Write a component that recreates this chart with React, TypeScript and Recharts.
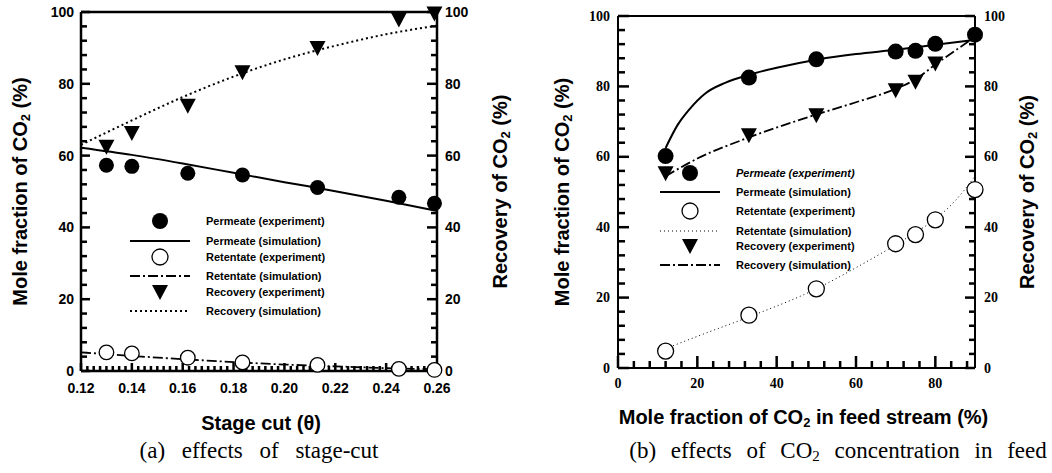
import React from "react";
import {
  ComposedChart,
  Legend,
  Line,
  ReferenceLine,
  Scatter,
  XAxis,
  YAxis,
} from "recharts";

const SANS = "'Liberation Sans', Arial, sans-serif";
const SERIF = "'Liberation Serif', 'Times New Roman', serif";

// (a) effects of stage-cut
const stageCutExp = [0.13, 0.14, 0.162, 0.1835, 0.213, 0.245, 0.259];
const permeateExpA = [57.3, 57.0, 55.1, 54.6, 51.1, 48.4, 46.7];
const retentateExpA = [5.2, 4.9, 3.7, 2.4, 1.7, 0.6, 0.3];
const recoveryExpA = [62.5, 66.3, 73.9, 83.2, 90.0, 97.9, 99.6];

const stageCutSim = [0.12, 0.14, 0.16, 0.18, 0.2, 0.22, 0.24, 0.26];
const permeateSimA = [62.2, 60.2, 57.8, 55.2, 52.6, 50.1, 47.4, 44.6];
const retentateSimA = [5.2, 4.2, 3.3, 2.5, 1.8, 1.3, 0.8, 0.5];
const recoverySimA = [63.0, 69.8, 76.3, 82.0, 86.8, 90.6, 93.8, 96.2];

// (b) effects of CO2 concentration in feed
const feedExp = [12, 33, 50, 70, 75, 80, 90];
const permeateExpB = [60.2, 82.5, 87.7, 89.9, 90.1, 92.1, 94.7];
const retentateExpB = [4.8, 15.0, 22.5, 35.3, 37.9, 42.1, 50.7];
const feedRecExp = [12, 33, 50, 70, 75, 80];
const recoveryExpB = [55.3, 66.1, 71.8, 78.9, 81.3, 86.5];

const feedPermSim = [12, 15, 18, 22, 27, 33, 40, 50, 60, 70, 80, 90];
const permeateSimB = [62.5, 69, 73.5, 78, 81, 83.3, 85.3, 87.6, 89.2, 90.4, 91.8, 93.2];
const feedRecSim = [12, 20, 33, 50, 60, 70, 75, 80, 90];
const recoverySimB = [54.5, 59.5, 65.5, 72, 75.5, 79.3, 82, 86.2, 94];
const feedRetSim = [12, 20, 33, 50, 60, 70, 75, 80, 85, 90];
const retentateSimB = [5.5, 9, 14.5, 22.5, 28.5, 35, 38.5, 42.3, 47.5, 54.5];

// axis ticks
const stageCutTicks = [0.12, 0.14, 0.16, 0.18, 0.2, 0.22, 0.24, 0.26];
const feedTicks = [0, 20, 40, 60, 80];
const pctTicks = [0, 20, 40, 60, 80, 100];

type Row = { label: string; mark: string; italic?: boolean };
const legendA: Row[] = [
  { label: "Permeate (experiment)", mark: "dot" },
  { label: "Permeate (simulation)", mark: "solid" },
  { label: "Retentate (experiment)", mark: "ring" },
  { label: "Retentate (simulation)", mark: "dashdot" },
  { label: "Recovery (experiment)", mark: "tri" },
  { label: "Recovery (simulation)", mark: "dotted" },
];
const legendB: Row[] = [
  { label: "Permeate (experiment)", mark: "dot", italic: true },
  { label: "Permeate (simulation)", mark: "solid" },
  { label: "Retentate (experiment)", mark: "ring" },
  { label: "Retentate (simulation)", mark: "fine" },
  { label: "Recovery (experiment)", mark: "tri" },
  { label: "Recovery (simulation)", mark: "dashdot" },
];

const pts = (xs: number[], ys: number[]) => xs.map((x, i) => ({ x, y: ys[i] }));

// majors plus evenly spaced minor ticks in between (and up to `end`)
function withMinor(majors: number[], parts: number, end?: number) {
  const step = (majors[1] - majors[0]) / parts;
  const out: number[] = [];
  const last = end ?? majors[majors.length - 1];
  for (let v = majors[0]; v <= last + step / 10; v += step) out.push(+v.toFixed(6));
  return out;
}

const isMajorOf = (majors: number[]) => (v: number) =>
  majors.some((m) => Math.abs(m - v) < 1e-6);

// tick labels only; inward tick marks come from the stub scatters
const makeTick = (side: "left" | "right" | "bottom", fmt: (v: number) => string,
  font: string, gap: number) => (p: any) => {
  const { x, y, payload } = p;
  const txt = { fontFamily: font, fontSize: 14, fontWeight: 700, fill: "#000" };
  if (side === "left")
    return <text x={x - gap} y={y} textAnchor="end" dominantBaseline="central" {...txt}>{fmt(payload.value)}</text>;
  if (side === "right")
    return <text x={x + gap} y={y} textAnchor="start" dominantBaseline="central" {...txt}>{fmt(payload.value)}</text>;
  return <text x={x} y={y + gap} textAnchor="middle" dominantBaseline="central" {...txt}>{fmt(payload.value)}</text>;
};

const stubShape = (dir: "right" | "left" | "up", majors: number[], key: "x" | "y", maj: number, min: number) => {
  const isMajor = isMajorOf(majors);
  return (p: any) => {
    const v = p.payload ? p.payload[key] : key === "x" ? p.x : p.y;
    const len = isMajor(v) ? maj : min;
    const cx = Number(p.cx);
    const cy = Number(p.cy);
    if (dir === "right") return <rect x={cx} y={cy - 1.25} width={len} height={2.5} fill="#000" />;
    if (dir === "left") return <rect x={cx - len} y={cy - 1.25} width={len} height={2.5} fill="#000" />;
    return <rect x={cx - 1.25} y={cy - len} width={2.5} height={len} fill="#000" />;
  };
};

// rotated title with CO2 subscript
const yTitle = (before: string, after: string, dx: number) => (p: any) => {
  const vb = p.viewBox;
  const cx = vb.x + dx;
  const cy = vb.y + vb.height / 2;
  return (
    <text x={cx} y={cy} transform={`rotate(-90 ${cx} ${cy})`} textAnchor="middle"
      dominantBaseline="central" fontFamily={SANS} fontWeight={700} fontSize={20} fill="#000">
      {before}
      <tspan dy={5} fontSize={13}>2</tspan>
      <tspan dy={-5}>{after}</tspan>
    </text>
  );
};

const xTitle = (parts: string[], dy: number, dx = 0) => (p: any) => {
  const vb = p.viewBox;
  const cx = vb.x + vb.width / 2 + dx;
  const cy = vb.y + dy;
  return (
    <text x={cx} y={cy} textAnchor="middle" dominantBaseline="central"
      fontFamily={SANS} fontWeight={700} fontSize={20} fill="#000">
      {parts[0]}
      {parts.length > 1 && (
        <>
          <tspan dy={5} fontSize={13}>2</tspan>
          <tspan dy={-5}>{parts[1]}</tspan>
        </>
      )}
    </text>
  );
};

const Dot = (r: number) => (p: any) => <circle cx={p.cx} cy={p.cy} r={r} fill="#000" />;
const Ring = (r: number) => (p: any) => (
  <circle cx={p.cx} cy={p.cy} r={r} fill="#fff" stroke="#000" strokeWidth={1.3} />
);
const Tri = (p: any) => (
  <polygon points={`${p.cx - 8},${p.cy - 7} ${p.cx + 8},${p.cy - 7} ${p.cx},${p.cy + 8}`} fill="#000" />
);

const LINE_STYLE: Record<string, { dash?: string; w: number }> = {
  solid: { w: 2 },
  dashdot: { dash: "10 3 2 3", w: 1.8 },
  dotted: { dash: "2 3", w: 2 },
  fine: { dash: "1 3", w: 1 },
};

function LegendBox({ rows, rowY }: { rows: Row[]; rowY: number[] }) {
  return (
    <svg width={240} height={125}>
      {rows.map((r, i) => {
        const y = rowY[i];
        let mark: React.ReactNode = null;
        if (r.mark === "dot") mark = <circle cx={40} cy={y} r={8} fill="#000" />;
        else if (r.mark === "ring")
          mark = <circle cx={40} cy={y} r={8} fill="#fff" stroke="#000" strokeWidth={1.3} />;
        else if (r.mark === "tri")
          mark = <polygon points={`32,${y - 7} 48,${y - 7} 40,${y + 8}`} fill="#000" />;
        else {
          const s = LINE_STYLE[r.mark];
          mark = <line x1={10} y1={y} x2={70} y2={y} stroke="#000" strokeWidth={s.w} strokeDasharray={s.dash} />;
        }
        return (
          <g key={r.label}>
            {mark}
            <text x={86} y={y} dominantBaseline="central" fontFamily={SANS} fontWeight={700}
              fontSize={11} fontStyle={r.italic ? "italic" : "normal"} fill="#000">
              {r.label}
            </text>
          </g>
        );
      })}
    </svg>
  );
}

function StageCutChart() {
  const yVals = withMinor(pctTicks, 5);
  const xVals = withMinor(stageCutTicks, 8);
  return (
    <ComposedChart width={520} height={445} margin={{ top: 12, right: 0, bottom: 0, left: 0 }}>
      <XAxis type="number" dataKey="x" domain={[0.12, 0.26]} ticks={stageCutTicks} interval={0}
        tickSize={0} tickMargin={0} tickLine={false} tick={makeTick("bottom", (v) => v.toFixed(2), SANS, 17)}
        axisLine={{ stroke: "#000", strokeWidth: 2.5 }} height={74}
        label={{ content: xTitle(["Stage cut (θ)"], 52, 2) }} />
      <YAxis yAxisId="left" type="number" domain={[0, 100]} ticks={pctTicks} interval={0}
        tickSize={0} tickMargin={0} tickLine={false} tick={makeTick("left", String, SANS, 7)}
        axisLine={{ stroke: "#000", strokeWidth: 2.5 }} width={81}
        label={{ content: yTitle("Mole fraction of CO", " (%)", 20) }} />
      <YAxis yAxisId="right" orientation="right" type="number" domain={[0, 100]} ticks={pctTicks} interval={0}
        tickSize={0} tickMargin={0} tickLine={false} tick={makeTick("right", String, SANS, 8)}
        axisLine={{ stroke: "#000", strokeWidth: 2.5 }} width={83}
        label={{ content: yTitle("Recovery of CO", " (%)", 63) }} />
      <ReferenceLine yAxisId="left" y={100} stroke="#000" strokeWidth={2.5} />
      <Scatter yAxisId="left" data={yVals.map((v) => ({ x: 0.12, y: v }))} dataKey="y"
        shape={stubShape("right", pctTicks, "y", 9, 6)} isAnimationActive={false} />
      <Scatter yAxisId="left" data={yVals.map((v) => ({ x: 0.26, y: v }))} dataKey="y"
        shape={stubShape("left", pctTicks, "y", 10, 6)} isAnimationActive={false} />
      <Scatter yAxisId="left" data={xVals.map((v) => ({ x: v, y: 0 }))} dataKey="y"
        shape={stubShape("up", stageCutTicks, "x", 8, 5)} isAnimationActive={false} />
      <Line yAxisId="left" data={pts(stageCutSim, permeateSimA)} dataKey="y" type="monotone"
        stroke="#000" strokeWidth={2} dot={false} isAnimationActive={false} />
      <Line yAxisId="left" data={pts(stageCutSim, retentateSimA)} dataKey="y" type="monotone"
        stroke="#000" strokeWidth={1.8} strokeDasharray="10 3 2 3" dot={false} isAnimationActive={false} />
      <Line yAxisId="right" data={pts(stageCutSim, recoverySimA)} dataKey="y" type="monotone"
        stroke="#000" strokeWidth={2} strokeDasharray="2 3" dot={false} isAnimationActive={false} />
      <Scatter yAxisId="left" data={pts(stageCutExp, permeateExpA)} dataKey="y"
        shape={Dot(7.5)} isAnimationActive={false} />
      <Scatter yAxisId="left" data={pts(stageCutExp, retentateExpA)} dataKey="y"
        shape={Ring(7.3)} isAnimationActive={false} />
      <Scatter yAxisId="right" data={pts(stageCutExp, recoveryExpA)} dataKey="y"
        shape={Tri} isAnimationActive={false} />
      <Legend layout="horizontal" verticalAlign="middle" align="center"
        wrapperStyle={{ position: "absolute", left: 120, top: 205, width: 240, height: 125 }}
        content={() => <LegendBox rows={legendA} rowY={[16, 36, 52, 71, 87, 106]} />} />
    </ComposedChart>
  );
}

function FeedChart() {
  const yVals = withMinor(pctTicks, 5);
  const xVals = withMinor(feedTicks, 5, 90);
  return (
    <ComposedChart width={532} height={445} margin={{ top: 16, right: 0, bottom: 0, left: 0 }}>
      <XAxis type="number" dataKey="x" domain={[0, 90]} ticks={feedTicks} interval={0}
        tickSize={0} tickMargin={0} tickLine={false} tick={makeTick("bottom", String, SERIF, 15)}
        axisLine={{ stroke: "#000", strokeWidth: 2 }} height={77}
        label={{ content: xTitle(["Mole fraction of CO", " in feed stream (%)"], 49, 7) }} />
      <YAxis yAxisId="left" type="number" domain={[0, 100]} ticks={pctTicks} interval={0}
        tickSize={0} tickMargin={0} tickLine={false} tick={makeTick("left", String, SERIF, 8)}
        axisLine={{ stroke: "#000", strokeWidth: 2 }} width={98}
        label={{ content: yTitle("Mole fraction of CO", " (%)", 42) }} />
      <YAxis yAxisId="right" orientation="right" type="number" domain={[0, 100]} ticks={pctTicks} interval={0}
        tickSize={0} tickMargin={0} tickLine={false} tick={makeTick("right", String, SERIF, 9)}
        axisLine={{ stroke: "#000", strokeWidth: 2 }} width={77}
        label={{ content: yTitle("Recovery of CO", " (%)", 52) }} />
      <ReferenceLine yAxisId="left" y={100} stroke="#000" strokeWidth={2} />
      <Scatter yAxisId="left" data={yVals.map((v) => ({ x: 0, y: v }))} dataKey="y"
        shape={stubShape("right", pctTicks, "y", 11, 7)} isAnimationActive={false} />
      <Scatter yAxisId="left" data={yVals.map((v) => ({ x: 90, y: v }))} dataKey="y"
        shape={stubShape("left", pctTicks, "y", 10, 6)} isAnimationActive={false} />
      <Scatter yAxisId="left" data={xVals.map((v) => ({ x: v, y: 0 }))} dataKey="y"
        shape={stubShape("up", feedTicks, "x", 12, 7)} isAnimationActive={false} />
      <Line yAxisId="left" data={pts(feedPermSim, permeateSimB)} dataKey="y" type="monotone"
        stroke="#000" strokeWidth={2} dot={false} isAnimationActive={false} />
      <Line yAxisId="left" data={pts(feedRetSim, retentateSimB)} dataKey="y" type="monotone"
        stroke="#000" strokeWidth={1} strokeDasharray="1 3" dot={false} isAnimationActive={false} />
      <Line yAxisId="right" data={pts(feedRecSim, recoverySimB)} dataKey="y" type="monotone"
        stroke="#000" strokeWidth={1.8} strokeDasharray="10 3 2 3" dot={false} isAnimationActive={false} />
      <Scatter yAxisId="left" data={pts(feedExp, permeateExpB)} dataKey="y"
        shape={Dot(8)} isAnimationActive={false} />
      <Scatter yAxisId="left" data={pts(feedExp, retentateExpB)} dataKey="y"
        shape={Ring(8)} isAnimationActive={false} />
      <Scatter yAxisId="right" data={pts(feedRecExp, recoveryExpB)} dataKey="y"
        shape={Tri} isAnimationActive={false} />
      <Legend layout="horizontal" verticalAlign="middle" align="center"
        wrapperStyle={{ position: "absolute", left: 130, top: 160, width: 240, height: 125 }}
        content={() => <LegendBox rows={legendB} rowY={[13, 32, 51, 71, 86, 105]} />} />
    </ComposedChart>
  );
}

const captionStyle: React.CSSProperties = {
  position: "absolute",
  top: 439,
  width: 500,
  textAlign: "center",
  fontFamily: SERIF,
  fontSize: 23,
  lineHeight: "24px",
  wordSpacing: 9,
  color: "#000",
  whiteSpace: "nowrap",
};

export default function App() {
  return (
    <div style={{ position: "absolute", left: 0, top: 0, width: 1052, height: 473, background: "#fff", overflow: "hidden" }}>
      <div style={{ position: "absolute", left: 0, top: 0 }}>
        <StageCutChart />
      </div>
      <div style={{ position: "absolute", left: 520, top: 0 }}>
        <FeedChart />
      </div>
      <div style={{ ...captionStyle, left: 259 - 250, wordSpacing: 11 }}>(a) effects of stage-cut</div>
      <div style={{ ...captionStyle, left: 838 - 250 }}>
        (b) effects of CO<span style={{ fontSize: 15, verticalAlign: -3 }}>2</span> concentration in feed
      </div>
    </div>
  );
}
